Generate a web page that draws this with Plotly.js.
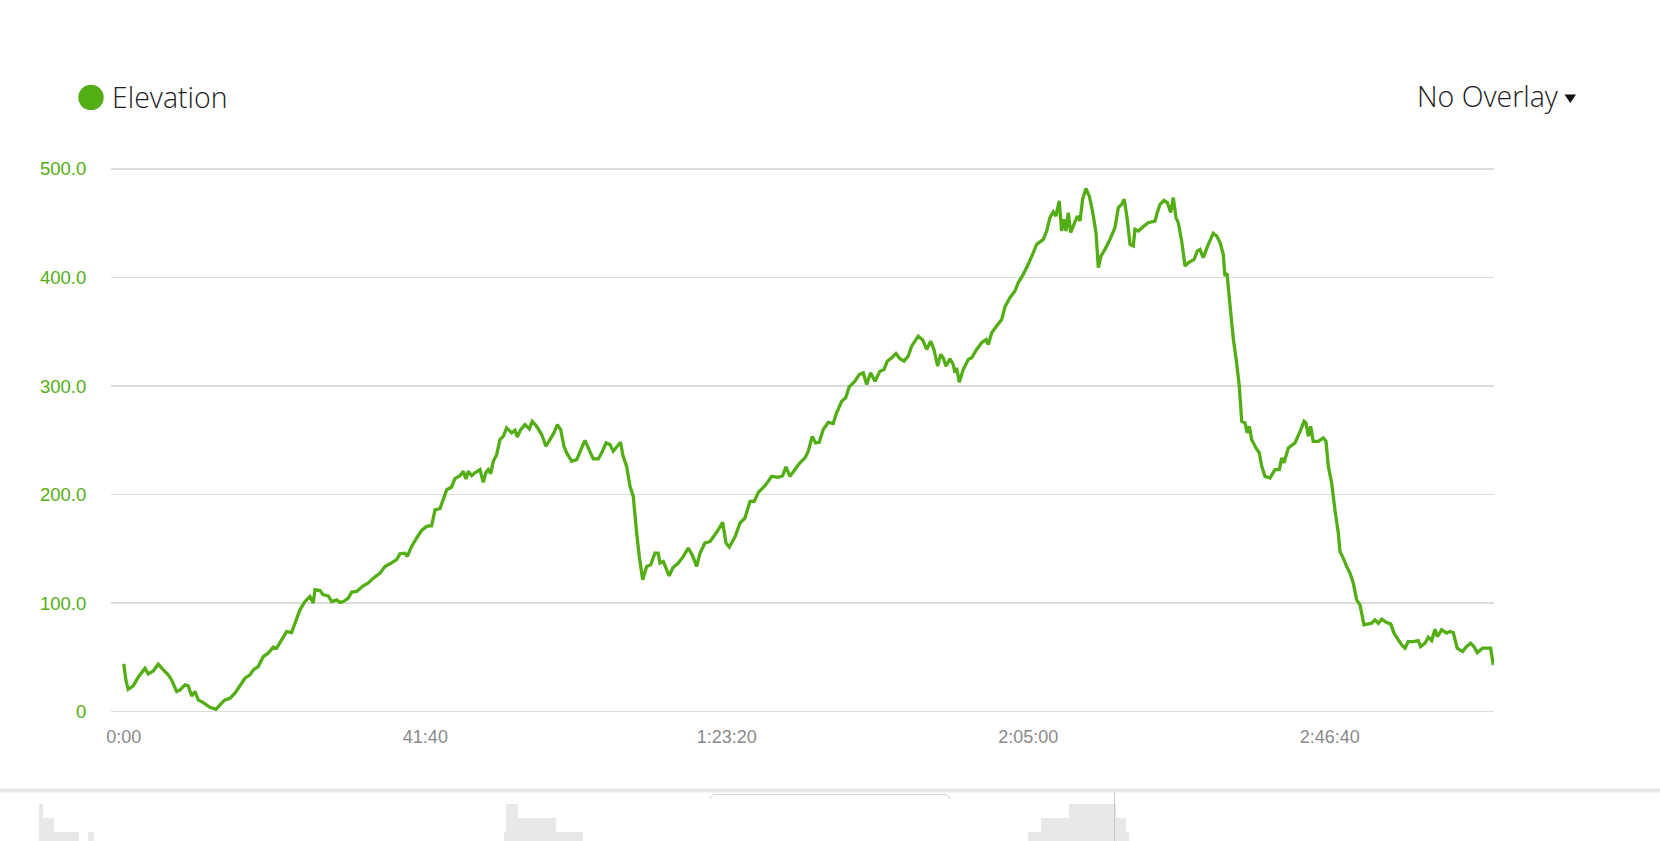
<!DOCTYPE html>
<html>
<head>
<meta charset="utf-8">
<script src="https://cdn.plot.ly/plotly-3.0.1.min.js"></script>
<style>
html,body{margin:0;padding:0;background:#fff;}
#chart{width:1660px;height:841px;}
</style>
</head>
<body>
<div id="chart"></div>
<script>
// ---- Data ----
const timeSec = [0,9,17,36,78,119,175,202,244,285,327,368,396,438,466,507,534,562,590,617,658,714,764,797,838,880,921,977,1004,1046,1073,1114,1156,1197,1239,1267,1308,1350,1391,1419,1460,1502,1543,1570,1585,1626,1653,1695,1723,1765,1792,1820,1861,1889,1930,1985,2027,2068,2124,2165,2207,2262,
2289,2331,2350,2386,2428,2469,2511,2552,2580,2621,2677,2718,2745,2787,2814,2837,2856,2884,2911,2953,2980,3003,3022,3042,3063,3091,3119,3146,3174,3216,3243,3262,3290,3326,3362,3386,3423,3464,3500,3533,3566,3594,3622,3649,3672,3713,3755,3796,3823,3851,3892,3934,3962,3998,4031,4058,4091,4119,4136,4169,4197,4224,4252,4274,4302,4335,4368,4404,4431,4445,4473,4522,4551,4597,4639,4680,4716,4750,4777,
4818,4860,4901,4929,4965,4993,5020,5067,5109,5150,5192,5227,5261,5316,5372,5426,5463,5490,5523,5565,5606,5648,5675,5708,5736,5766,5799,5841,5882,5910,5952,5985,6015,6062,6098,6131,6159,6192,6228,6269,6303,6330,6367,6402,6435,6469,6504,6532,6587,6624,6657,6690,6717,6748,6773,6794,6817,6850,6877,6891,6905,6927,6960,7002,7030,7071,7113,7149,7168,7196,7237,7279,
7306,7347,7389,7416,7458,7499,7541,7569,7624,7652,7679,7707,7729,7756,7776,7795,7812,7831,7851,7878,7906,7928,7950,7978,8005,8033,8061,8080,8102,8135,8177,8218,8246,8274,8295,8320,8343,8370,8384,8412,8459,8494,8550,8569,8592,8625,8652,8680,8702,8724,8743,8771,8799,8826,8874,8901,
8923,8950,8992,9033,9062,9090,9116,9130,9147,9186,9200,9227,9249,9269,9296,9315,9332,9352,9387,9415,9435,9462,9504,9545,9581,9601,9620,9656,9711,9753,9786,9802,9821,9841,9862,9904,9945,9968,9987,10015,10042,10070,10084,10111,10139,10167,10194,10222,10250,10283,10319,10347,10374,10402,10430,10471,10504,10532,10567,10596,10623,10650,10692,10733,10753,10789,10816,10844,10872,10891,10927,10969,10996,11023,11056,11101,11134,11167,11194,11222,11267,11300,11333,11355];

const elevationM = [44,35.4,29,20.6,23.7,31.7,40,34.8,37.5,43.7,38.5,33.9,29.2,18.5,20,24.6,23.7,14.5,18.5,10.8,8.3,4,2.2,6.2,10.8,12.4,17,26.2,30.8,33.9,38.5,41.5,50.7,53.9,59.4,58.5,66.1,73.8,72.9,81.5,93.8,101.5,106,100,112.3,111.6,107.7,106.7,101.5,103,100.6,101.5,104.6,110.1,110.7,116,118.5,123,127.7,133.8,136.2,140,
145.5,146,143,152.2,160,167,170.7,171.3,186,187,204.5,207,214.7,217.4,221.4,214.4,221.4,217.4,220,223,211.3,220.5,223,219.3,230.6,236.8,250.6,253.6,261.4,256.8,259.2,253.1,259.9,264.5,260.5,267.5,262.9,255.3,244.5,250.6,256.8,264.5,259.9,244.5,238.4,230.6,232.2,243,250,243,232.8,232.8,238.4,247.6,246,239.9,244.5,248.2,236.8,226,207.6,198.3,164.6,143,121.5,133.8,135.3,146,146,136.9,138.4,125.2,132.3,136.9,143,150.7,143.6,133.8,146,
155.4,156.8,163,167.6,174.4,155.4,151.7,160.9,173.8,178.4,193.7,193.7,202,208.2,216.8,215.9,217.4,225.5,216.8,223,229.2,233.8,239.9,253.6,247.6,248.2,259.9,266.6,265.4,275.3,286,289.1,299.3,304.4,310.6,312.2,301.4,312.2,304.4,313.7,315.3,322.9,326,330,325.1,322.9,327.5,336.7,345.9,342.3,333.7,341.3,333.7,318.3,329.1,326,318.3,325.1,319.8,312.2,316.8,303.5,315.2,324.4,326,333.7,339.9,342.9,338.3,349.1,355.2,361.3,
373,381.4,387.5,395.2,402.9,412.1,422.9,430.5,435.1,442.8,455.2,460.4,456.6,470.5,442.8,453.6,442.8,459.8,441.3,449,456.6,452,472,481.9,475.1,460.4,441.3,409,419.7,425.9,435.1,445.9,464.4,467.4,472,453.6,430.5,429,444.4,442.8,447.4,450.5,452,459.8,467.4,471.1,469,459.8,473.6,455.2,450.5,433.6,410.5,413.5,416.7,424.4,
425.9,418.2,430.5,440.7,438.2,432,421.3,401.3,404,358.3,342.9,321.4,299.8,267.5,266,256.8,262.9,250.6,243,238.4,226,216.8,215.3,223,223,233.8,229.2,243,247.6,258.3,267.5,266,253.7,262.9,249.1,249.1,252.2,249.1,226,210.7,186,164.6,147.6,141.5,133.8,127.7,118.5,103,98.4,80,80.9,81.5,84.6,81.5,85.2,82.1,80.9,72.3,66.1,61.5,58.5,64.6,64.6,65.5,60,63.1,68.6,65.5,76,69.2,75.4,72.3,73.8,72.9,58.5,55.4,60,63.1,60,54.4,58.5,58.5,58.5,43.1];

const xTickValues = [0, 2500, 5000, 7500, 10000];
const xTickLabels = ["0:00", "41:40", "1:23:20", "2:05:00", "2:46:40"];
const yTickValues = [0, 100, 200, 300, 400, 500];
const yTickLabels = ["0", "100.0", "200.0", "300.0", "400.0", "500.0"];

// Cut-off panel below the chart (partially visible blocks)
const bottomBarCenter = [40.75, 48.25, 66.45, 90.75, 505, 512.15, 537.15, 569.7, 1034.5, 1055, 1092.5, 1120.75, 1127.25];
const bottomBarWidth  = [4.3, 10.7, 25.7, 5.7, 2.8, 11.5, 38.5, 26.6, 13, 28, 47, 9.5, 3.5];
const bottomBarHeight = [37, 23, 9, 9, 9, 37, 23, 9, 9, 23, 37, 23, 9];

// ---- Layout helpers ----
const W = 1660, H = 841;
const px = x => x / W;
const py = y => 1 - y / H;
const GREEN = '#52ae14';

const traces = [
  {
    type: 'scatter', mode: 'lines',
    x: timeSec, y: elevationM,
    line: {color: GREEN, width: 3.3, simplify: false},
    hoverinfo: 'skip', xaxis: 'x', yaxis: 'y'
  },
  {
    type: 'bar',
    x: bottomBarCenter, y: bottomBarHeight, width: bottomBarWidth,
    marker: {color: '#e8e8e8', line: {width: 0}},
    hoverinfo: 'skip', xaxis: 'x2', yaxis: 'y2'
  }
];

const tickFont = 'Liberation Sans, Arial, Helvetica, sans-serif';
const titleFont = 'Open Sans, Noto Sans, sans-serif';

const layout = {
  width: W, height: H,
  margin: {l: 0, r: 0, t: 0, b: 0},
  paper_bgcolor: '#ffffff', plot_bgcolor: 'rgba(0,0,0,0)',
  showlegend: false,
  xaxis: {
    domain: [px(111.2), px(1494)], range: [-105, 11361],
    tickmode: 'array', tickvals: xTickValues, ticktext: xTickLabels,
    showgrid: false, zeroline: false, showline: false, ticks: '',
    tickfont: {family: tickFont, size: 18, color: '#8a8a8a'},
    ticklabelstandoff: 8, fixedrange: true
  },
  yaxis: {
    domain: [py(716.0), py(164.6)], range: [-4, 504],
    tickmode: 'array', tickvals: yTickValues, ticktext: yTickLabels,
    showgrid: true, gridcolor: '#dcdcdc', gridwidth: 1.5,
    zeroline: false, showline: false, ticks: '',
    tickfont: {family: tickFont, size: 18.5, color: GREEN},
    ticklabelstandoff: 24, fixedrange: true
  },
  xaxis2: {domain: [0, 1], range: [0, 1660], visible: false, anchor: 'y2', fixedrange: true},
  yaxis2: {domain: [0, py(793)], range: [0, 48], visible: false, anchor: 'x2', fixedrange: true},
  bargap: 0,
  shapes: [
    // legend dot
    {type: 'circle', xref: 'paper', yref: 'paper',
     x0: px(78.3), x1: px(103.7), y0: py(110.1), y1: py(84.7),
     fillcolor: GREEN, line: {width: 0}},
    // dropdown triangle
    {type: 'path', xref: 'paper', yref: 'paper',
     path: `M ${px(1564.5)} ${py(94.5)} L ${px(1576)} ${py(94.5)} L ${px(1570.25)} ${py(103)} Z`,
     fillcolor: '#111111', line: {width: 0}},
    // separator band
    {type: 'rect', xref: 'paper', yref: 'paper',
     x0: 0, x1: 1, y0: py(792.5), y1: py(788.5),
     fillcolor: '#e7e7e7', line: {width: 0}},
    // tab outline
    {type: 'path', xref: 'paper', yref: 'paper',
     path: `M ${px(710)} ${py(799)} Q ${px(711)} ${py(794.5)} ${px(716)} ${py(794.5)} L ${px(944)} ${py(794.5)} Q ${px(949)} ${py(794.5)} ${px(950)} ${py(799)}`,
     line: {color: '#cfcfcf', width: 1}},
    // vertical marker line in the lower panel
    {type: 'line', xref: 'paper', yref: 'paper',
     x0: px(1114.5), x1: px(1114.5), y0: py(792.5), y1: 0,
     line: {color: '#c8c8c8', width: 1}}
  ],
  annotations: [
    {text: 'Elevation', xref: 'paper', yref: 'paper', x: px(110), y: py(97.5),
     xanchor: 'left', yanchor: 'middle', showarrow: false,
     font: {family: titleFont, size: 28.5, color: '#222222', weight: 300}},
    {text: 'No Overlay', xref: 'paper', yref: 'paper', x: px(1561), y: py(95.5),
     xanchor: 'right', yanchor: 'middle', showarrow: false,
     font: {family: titleFont, size: 28.5, color: '#222222', weight: 300}}
  ]
};

Plotly.newPlot('chart', traces, layout, {displayModeBar: false, staticPlot: true});
</script>
</body>
</html>
